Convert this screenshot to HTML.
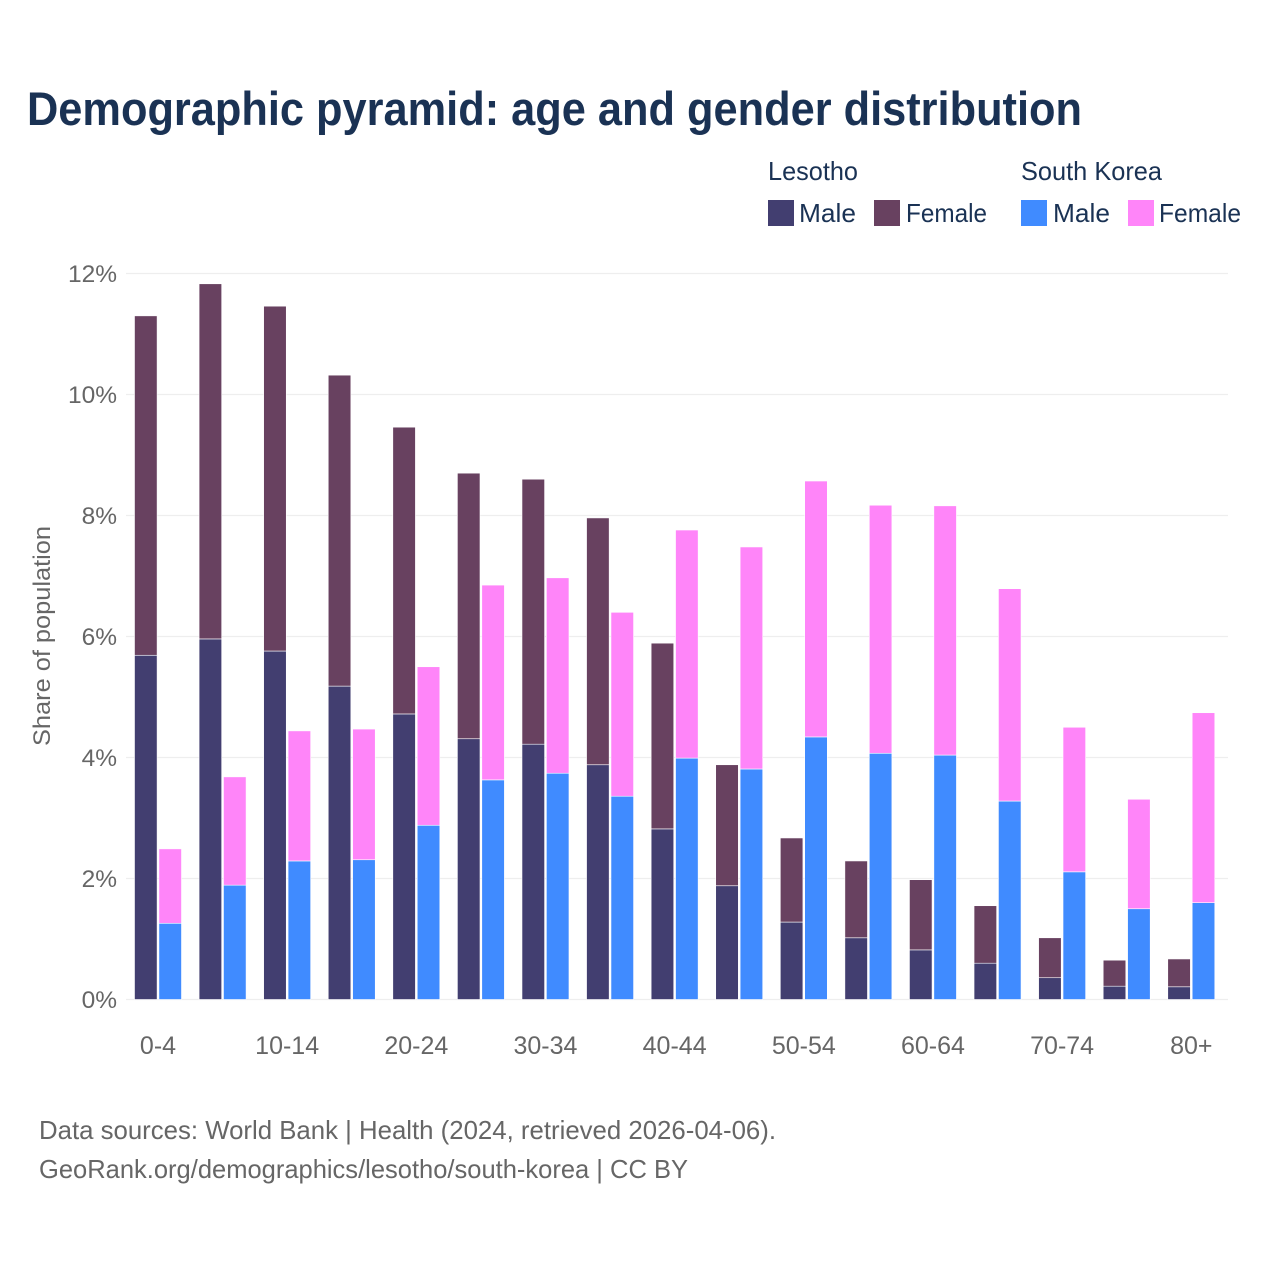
<!DOCTYPE html>
<html lang="en">
<head>
<meta charset="utf-8">
<title>Demographic pyramid</title>
<style>
  html, body { margin: 0; padding: 0; background: #fff; }
  svg { display: block; font-family: "Liberation Sans", sans-serif; }
</style>
</head>
<body>
<svg id="chart" xmlns="http://www.w3.org/2000/svg" width="1280" height="1280" viewBox="0 0 1280 1280">
  <rect x="0" y="0" width="1280" height="1280" fill="#ffffff"/>
  <text x="27" y="125" font-size="47" font-weight="700" fill="#1a3254" textLength="1055" lengthAdjust="spacingAndGlyphs">Demographic pyramid: age and gender distribution</text>

  <g font-size="26" fill="#1a3254">
    <text x="768" y="180" textLength="90" lengthAdjust="spacingAndGlyphs">Lesotho</text>
    <text x="1021" y="180" textLength="141" lengthAdjust="spacingAndGlyphs">South Korea</text>
    <rect x="768" y="200" width="26" height="26" fill="#423e70"/>
    <text x="799" y="222" textLength="57" lengthAdjust="spacingAndGlyphs">Male</text>
    <rect x="874" y="200" width="26" height="26" fill="#684160"/>
    <text x="906" y="222" textLength="81" lengthAdjust="spacingAndGlyphs">Female</text>
    <rect x="1021" y="200" width="26" height="26" fill="#408bff"/>
    <text x="1053" y="222" textLength="57" lengthAdjust="spacingAndGlyphs">Male</text>
    <rect x="1128" y="200" width="26" height="26" fill="#ff85f9"/>
    <text x="1159" y="222" textLength="82" lengthAdjust="spacingAndGlyphs">Female</text>
  </g>

  <g id="grid"></g>
  <g id="bars"></g>
  <g id="xaxis"></g>

  <text transform="translate(50,636) rotate(-90)" text-anchor="middle" font-size="24" fill="#666666" textLength="220" lengthAdjust="spacingAndGlyphs">Share of population</text>

  <text x="39" y="1139" font-size="26" fill="#666666" textLength="737" lengthAdjust="spacingAndGlyphs">Data sources: World Bank | Health (2024, retrieved 2026-04-06).</text>
  <text x="39" y="1178" font-size="26" fill="#666666" textLength="649" lengthAdjust="spacingAndGlyphs">GeoRank.org/demographics/lesotho/south-korea | CC BY</text>
</svg>
<script>
const categories = ["0-4","5-9","10-14","15-19","20-24","25-29","30-34","35-39","40-44","45-49","50-54","55-59","60-64","65-69","70-74","75-79","80+"];
const lesothoMale = [5.69,5.96,5.76,5.18,4.72,4.31,4.22,3.88,2.82,1.88,1.28,1.02,0.82,0.60,0.36,0.22,0.21];
const lesothoFemale = [5.61,5.87,5.70,5.14,4.74,4.39,4.38,4.08,3.07,2.00,1.39,1.27,1.16,0.95,0.66,0.43,0.46];
const koreaMale = [1.26,1.89,2.29,2.31,2.88,3.63,3.74,3.36,3.99,3.81,4.34,4.07,4.04,3.28,2.11,1.50,1.60];
const koreaFemale = [1.23,1.79,2.15,2.16,2.62,3.22,3.23,3.04,3.77,3.67,4.23,4.10,4.12,3.51,2.39,1.81,3.14];
const yTicks = [0,2,4,6,8,10,12];
const yTickLabels = ["0%","2%","4%","6%","8%","10%","12%"];

const SVG_NS = "http://www.w3.org/2000/svg";
const plot = { left: 126, right: 1228, baseY: 999.5, unit: 60.5, firstCenter: 158, step: 64.58, barW: 22.6, gap: 1.8 };
const colors = { lesothoMale: "#423e70", lesothoFemale: "#684160", koreaMale: "#408bff", koreaFemale: "#ff85f9" };

function yScale(v) { return plot.baseY - v * plot.unit; }
function xCenter(i) { return plot.firstCenter + i * plot.step; }
function make(tag, attrs, parent) {
  const el = document.createElementNS(SVG_NS, tag);
  for (const k in attrs) el.setAttribute(k, attrs[k]);
  parent.appendChild(el);
  return el;
}

const grid = document.getElementById("grid");
yTicks.forEach(function (t, i) {
  const line = make("line", { x1: plot.left, x2: plot.right, y1: yScale(t), y2: yScale(t), stroke: "#eeeeee", "stroke-width": 1.2 }, grid);
  
  
  const label = make("text", { x: 117, y: yScale(t) + 8.5, "text-anchor": "end", "font-size": 24.5, fill: "#666666" }, grid);
  
  
  label.textContent = yTickLabels[i];
});

const bars = document.getElementById("bars");
function segment(x, bottomVal, val, color) {
  const top = yScale(bottomVal + val);
  const rect = make("rect", {
    x: x, y: top, width: plot.barW, height: yScale(bottomVal) - top,
    fill: color, stroke: "#ffffff", "stroke-width": 0.6
  }, bars);
  return rect;
}
categories.forEach(function (c, i) {
  const cx = xCenter(i);
  const leftX = cx - plot.barW - plot.gap / 2;
  const rightX = cx + plot.gap / 2;
  const a = segment(leftX, 0, lesothoMale[i], colors.lesothoMale);
  
  
  const b = segment(leftX, lesothoMale[i], lesothoFemale[i], colors.lesothoFemale);
  
  
  const d = segment(rightX, 0, koreaMale[i], colors.koreaMale);
  
  
  const e = segment(rightX, koreaMale[i], koreaFemale[i], colors.koreaFemale);
  
  
});

const xaxis = document.getElementById("xaxis");
categories.forEach(function (c, i) {
  if (i % 2 !== 0) return;
  const t = make("text", { x: xCenter(i), y: 1054, "text-anchor": "middle", "font-size": 25, fill: "#666666" }, xaxis);
  
  
  t.textContent = c;
});
</script>
</body>
</html>
